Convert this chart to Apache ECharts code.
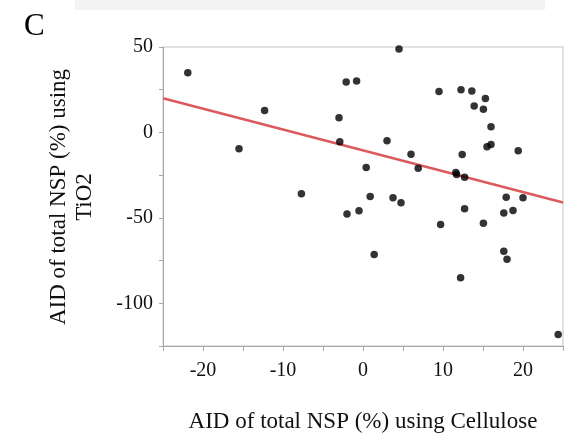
<!DOCTYPE html>
<html>
<head>
<meta charset="utf-8">
<script src="https://cdn.jsdelivr.net/npm/echarts@6/dist/echarts.min.js"></script>
<style>
html,body{margin:0;padding:0;background:#fff;}
#chart{width:570px;height:438px;}
</style>
</head>
<body>
<div id="chart"></div>
<script>
// AID of total NSP (%) using Cellulose
const xValues = [-21.9, -15.5, -12.3, -7.7, -3.0, -2.9, -2.1, -0.8, 4.5, 9.5,
  12.25, 13.6, 15.3, 13.9, 15.05, 16.0, 15.5, 16.0, 19.4, 3.0,
  6.0, 0.4, 6.9, 12.4, 11.6, 11.7, 12.7, 0.9, 3.75, 17.9,
  20.0, -2.0, -0.5, 1.4, 4.75, 9.7, 12.7, 12.2, 15.05, 17.6,
  18.75, 17.6, 18.0, 24.4];
// AID of total NSP (%) using TiO2
const yValues = [35.0, -9.6, 12.9, -35.9, 8.6, -5.5, 29.5, 30.1, 48.8, 24.0,
  25.0, 24.2, 19.9, 15.4, 13.5, 3.3, -8.4, -7.0, -10.7, -4.9,
  -12.7, -20.5, -20.9, -12.9, -23.4, -24.6, -26.2, -37.5, -38.3, -37.9,
  -38.3, -47.8, -45.9, -71.5, -41.2, -53.9, -44.7, -85.1, -53.1, -47.1,
  -45.7, -69.5, -74.2, -118.2];
// regression line end points
const fitX = [-25, 25];
const fitY = [20, -41];
// tick labels
const xTickLabels = [-20, -10, 0, 10, 20];
const yTickLabels = [50, 0, -50, -100];

const points = xValues.map((x, i) => [x, yValues[i]]);
const fitLine = fitX.map((x, i) => [x, fitY[i]]);

const serif = '"Liberation Serif", "Times New Roman", serif';
const chart = echarts.init(document.getElementById('chart'));
chart.setOption({
  backgroundColor: '#fff',
  animation: false,
  grid: {left: 163, right: 7, top: 47, bottom: 91, show: true, borderColor: '#c4c4c4', borderWidth: 1},
  xAxis: {
    type: 'value', min: -25, max: 25, interval: 5,
    name: 'AID of total NSP (%) using Cellulose',
    nameLocation: 'middle', nameGap: 64,
    nameTextStyle: {fontFamily: serif, fontSize: 23, color: '#111'},
    axisLine: {show: true, onZero: false, lineStyle: {color: '#a8a8a8', width: 1}},
    axisTick: {show: true, length: 5, lineStyle: {color: '#a8a8a8'}},
    splitLine: {show: false},
    axisLabel: {
      margin: 15, fontFamily: serif, fontSize: 20, color: '#111',
      formatter: v => xTickLabels.includes(v) ? String(v) : ''
    }
  },
  yAxis: {
    type: 'value', min: -125, max: 50, interval: 25,
    axisLine: {show: true, onZero: false, lineStyle: {color: '#a8a8a8', width: 1}},
    axisTick: {show: true, length: 4, lineStyle: {color: '#a8a8a8'}},
    splitLine: {show: false},
    axisLabel: {
      margin: 10, fontFamily: serif, fontSize: 20, color: '#111',
      formatter: v => yTickLabels.includes(v) ? String(v) : ''
    }
  },
  graphic: [
    {type: 'rect', left: 75, top: 0, shape: {width: 470, height: 10}, style: {fill: '#f3f3f3'}, silent: true},
    {type: 'text', left: 24, top: 11, style: {text: 'C', fontFamily: serif, fontSize: 31, fill: '#000'}},
    {type: 'text', x: 59, y: 197, rotation: Math.PI / 2,
      style: {text: 'AID of total NSP (%) using', fontFamily: serif, fontSize: 23, fill: '#111', align: 'center', verticalAlign: 'middle'}},
    {type: 'text', x: 85, y: 197, rotation: Math.PI / 2,
      style: {text: 'TiO2', fontFamily: serif, fontSize: 23, fill: '#111', align: 'center', verticalAlign: 'middle'}}
  ],
  series: [
    {
      type: 'line', data: fitLine, showSymbol: false, symbol: 'none',
      lineStyle: {color: '#dc5a5e', width: 2.5}, z: 2
    },
    {
      type: 'scatter', data: points, symbol: 'circle', symbolSize: 7.5,
      itemStyle: {color: '#000'}, z: 3
    }
  ]
});
</script>
</body>
</html>
